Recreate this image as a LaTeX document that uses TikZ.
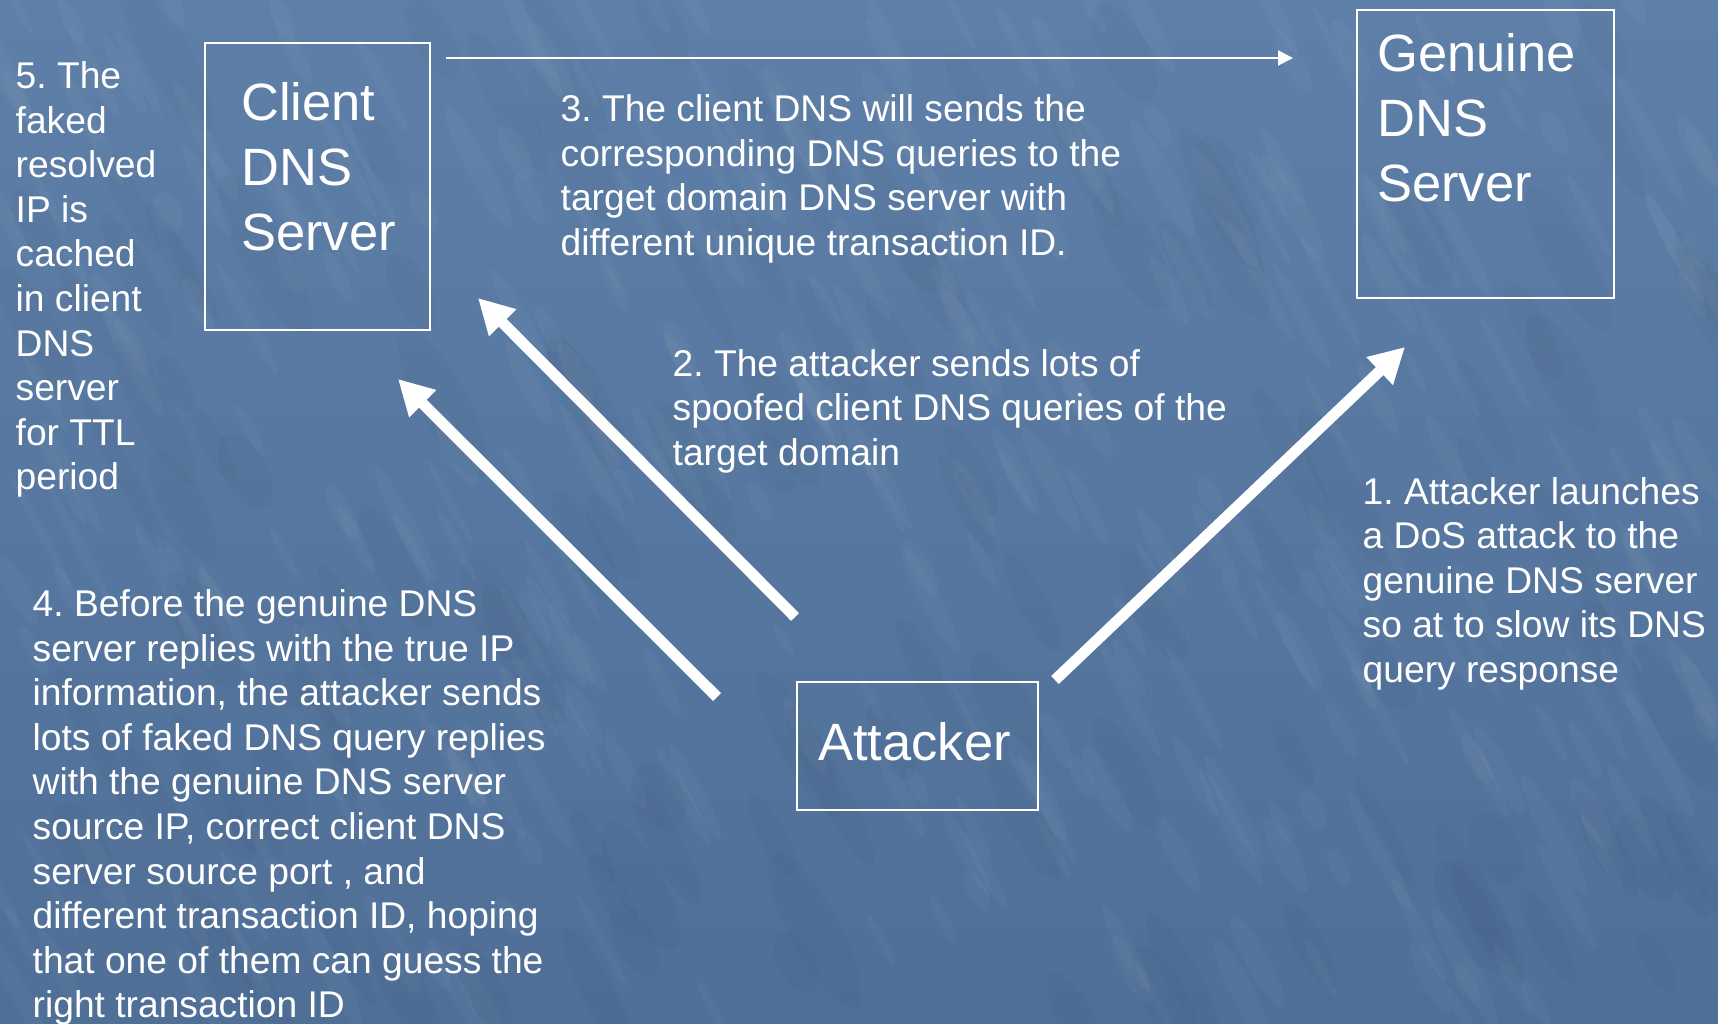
\documentclass[tikz,border=0pt]{standalone}
\usepackage{fontspec}
\setmainfont{Liberation Sans}
\usetikzlibrary{arrows.meta}
\definecolor{bgtop}{RGB}{94,127,168}
\definecolor{bgbot}{RGB}{79,111,151}
% left-aligned block of lines whose reference point is the first baseline
\newcommand{\txtblock}[1]{\begin{tabular}[t]{@{}l@{}}#1\end{tabular}}
\begin{document}
\frenchspacing
\begin{tikzpicture}[x=1pt,y=-1pt,
  box/.style={draw=white, line width=2pt, inner sep=0pt},
  note/.style={text=white, inner sep=0pt, anchor=base west,
               font=\fontsize{37.2}{44.6}\selectfont},
  title/.style={text=white, inner sep=0pt, anchor=base west,
               font=\fontsize{52.5}{65}\selectfont},
  fat/.style={white, line width=11pt, -{Triangle[length=35pt,width=36pt]}},
  slim/.style={white, line width=2pt, -{Triangle[length=15pt,width=15pt]}}]

% textured blue backdrop
\shade[top color=bgtop, bottom color=bgbot] (0,0) rectangle (1718,1024);
\useasboundingbox (0,0) rectangle (1718,1024);
\pgfmathsetseed{11}
\foreach \i in {1,...,320}{
  \pgfmathsetmacro\sx{rnd*1718}
  \pgfmathsetmacro\sy{rnd*1024}
  \pgfmathsetmacro\rx{20+rnd*50}
  \pgfmathsetmacro\ry{4+rnd*8}
  \fill[white, opacity=0.03, rotate around={-62:(\sx,\sy)}]
    (\sx,\sy) ellipse [x radius=\rx, y radius=\ry];
}
\foreach \i in {1,...,120}{
  \pgfmathsetmacro\sx{rnd*1718}
  \pgfmathsetmacro\sy{rnd*1024}
  \pgfmathsetmacro\rx{30+rnd*60}
  \pgfmathsetmacro\ry{10+rnd*15}
  \fill[black, opacity=0.018, rotate around={-62:(\sx,\sy)}]
    (\sx,\sy) ellipse [x radius=\rx, y radius=\ry];
}

% servers and attacker
\node[box, minimum width=225, minimum height=287] (client) at (317.5,186.5) {};
\node[box, minimum width=257, minimum height=288] (genuine) at (1485.5,154) {};
\node[box, minimum width=241, minimum height=128] (attacker) at (917.5,746) {};

\node[title] (clientlbl) at (241,121) {\txtblock{Client\\DNS\\Server}};
\node[title] (genuinelbl) at (1377,72) {\txtblock{Genuine\\DNS\\Server}};
\node[title] (attackerlbl) at (818,760) {Attacker};

% step descriptions
\node[note] (s5) at (15.5,88.5) {\txtblock{5. The\\faked\\resolved\\IP is\\cached\\in client\\DNS\\server\\for TTL\\period}};
\node[note] (s3) at (560.5,121.5) {\txtblock{3. The client DNS will sends the\\corresponding DNS queries to the\\target domain DNS server with\\different unique transaction ID.}};
\node[note] (s2) at (672.5,376) {\txtblock{2. The attacker sends lots of\\spoofed client DNS queries of the\\target domain}};
\node[note] (s1) at (1362.5,504) {\txtblock{1. Attacker launches\\a DoS attack to the\\genuine DNS server\\so at to slow its DNS\\query response}};
\node[note] (s4) at (32.5,616.5) {\txtblock{4. Before the genuine DNS\\server replies with the true IP\\information, the attacker sends\\lots of faked DNS query replies\\with the genuine DNS server\\source IP, correct client DNS\\server source port , and\\different transaction ID, hoping\\that one of them can guess the\\right transaction ID}};

% arrow end points
\coordinate (qstart) at (446,58);
\coordinate (qend) at (1293,58);
\coordinate (spoofA) at (795,617);
\coordinate (spoofAend) at (478,298);
\coordinate (fakeB) at (717,697);
\coordinate (fakeBend) at (398,379);
\coordinate (dosC) at (1055,680);
\coordinate (dosCend) at (1405,347);

\draw[slim] (qstart) -- (qend);
\draw[fat] (spoofA) -- (spoofAend);
\draw[fat] (fakeB) -- (fakeBend);
\draw[fat] (dosC) -- (dosCend);
\end{tikzpicture}
\end{document}
